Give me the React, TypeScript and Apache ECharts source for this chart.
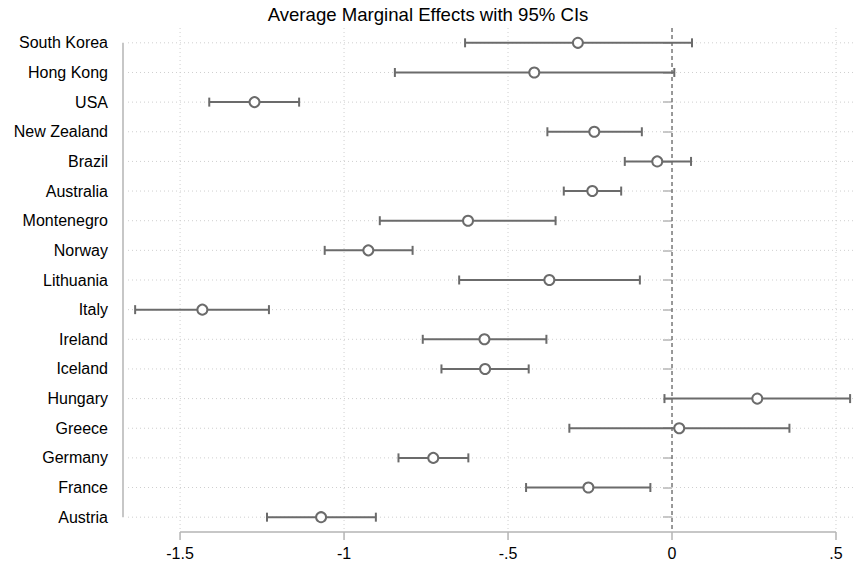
import React, { useEffect, useRef } from "react";
import * as echarts from "echarts";

// Countries listed from top to bottom
const countries = [
  "South Korea", "Hong Kong", "USA", "New Zealand", "Brazil", "Australia",
  "Montenegro", "Norway", "Lithuania", "Italy", "Ireland", "Iceland",
  "Hungary", "Greece", "Germany", "France", "Austria",
];

// Average marginal effects and their 95% confidence bounds
const estimates = [
  -0.287, -0.420, -1.273, -0.237, -0.045, -0.243, -0.622, -0.926, -0.374,
  -1.432, -0.572, -0.570, 0.260, 0.022, -0.728, -0.255, -1.070,
];
const lowerCI = [
  -0.631, -0.845, -1.411, -0.380, -0.144, -0.330, -0.891, -1.059, -0.649,
  -1.637, -0.760, -0.703, -0.023, -0.313, -0.834, -0.445, -1.235,
];
const upperCI = [
  0.061, 0.007, -1.137, -0.092, 0.058, -0.155, -0.355, -0.791, -0.098,
  -1.229, -0.383, -0.437, 0.543, 0.358, -0.621, -0.066, -0.903,
];

const xTicks = [-1.5, -1, -0.5, 0, 0.5];
const xMin = -1.674;
const xMax = 0.561;

const FONT = "'Liberation Sans', Arial, Helvetica, sans-serif";
const BAR = "#6b6b6b";
const AXIS = "#b4b4b4";
const GRIDC = "#cfcfcf";

const fmtTick = (v: number) => {
  const s = String(Math.round(v * 10) / 10);
  return s.replace(/^(-?)0\./, "$1.");
};

export default function App() {
  const ref = useRef<HTMLDivElement>(null);

  useEffect(() => {
    document.body.style.margin = "0";
    if (!ref.current) return;
    const chart = echarts.init(ref.current, undefined, { renderer: "svg" });

    const barData = countries.map((_, i) => [lowerCI[i], upperCI[i], i]);
    const pointData = countries.map((_, i) => [estimates[i], i]);

    chart.setOption({
      animation: false,
      backgroundColor: "#ffffff",
      title: {
        text: "Average Marginal Effects with 95% CIs",
        left: "center",
        top: 0,
        textStyle: { fontFamily: FONT, fontSize: 18.6, fontWeight: "normal", color: "#000" },
      },
      grid: { left: 123, right: 0, top: 28, bottom: 31, containLabel: false },
      xAxis: {
        type: "value",
        min: xMin,
        max: xMax,
        splitNumber: 5,
        axisLine: { show: false },
        axisTick: { show: false },
        splitLine: { show: false },
        axisLabel: {
          showMinLabel: false,
          showMaxLabel: false,
          margin: 13,
          fontFamily: FONT,
          fontSize: 16,
          color: "#000",
          formatter: (v: number) => fmtTick(v),
        },
      },
      yAxis: {
        type: "category",
        data: countries,
        inverse: true,
        axisLine: { show: false },
        axisTick: { show: true, alignWithLabel: true, length: 9, lineStyle: { color: AXIS, width: 1.5 } },
        splitLine: { show: false },
        axisLabel: { margin: 15, fontFamily: FONT, fontSize: 16, color: "#000" },
      },
      series: [
        {
          // Grid lines, reference line at zero and the axis lines
          type: "custom",
          z: 1,
          silent: true,
          data: [[0, 0]],
          encode: { x: 0, y: 1 },
          renderItem: (params: any, api: any) => {
            const cs = params.coordSys;
            const children: any[] = [];
            const bottom = cs.y + cs.height;
            countries.forEach((_, i) => {
              const y = api.coord([xMin, i])[1];
              children.push({
                type: "line",
                shape: { x1: cs.x + 5, y1: y, x2: cs.x + cs.width, y2: y },
                style: { stroke: GRIDC, lineWidth: 1, lineDash: [1, 3] },
              });
            });
            xTicks.forEach((t) => {
              const x = api.coord([t, 0])[0];
              if (t !== 0) {
                children.push({
                  type: "line",
                  shape: { x1: x, y1: cs.y, x2: x, y2: bottom },
                  style: { stroke: GRIDC, lineWidth: 1, lineDash: [1, 3] },
                });
              }
              children.push({
                type: "line",
                shape: { x1: x, y1: bottom, x2: x, y2: bottom + 8 },
                style: { stroke: AXIS, lineWidth: 1.5 },
              });
            });
            const x0 = api.coord([0, 0])[0];
            children.push({
              type: "line",
              shape: { x1: x0, y1: cs.y, x2: x0, y2: bottom },
              style: { stroke: "#777", lineWidth: 1.5, lineDash: [4, 3] },
            });
            const xa = api.coord([xTicks[0], 0])[0];
            const xb = api.coord([xTicks[xTicks.length - 1], 0])[0];
            children.push({
              type: "line",
              shape: { x1: xa, y1: bottom, x2: xb, y2: bottom },
              style: { stroke: AXIS, lineWidth: 1.5 },
            });
            const ya = api.coord([xMin, 0])[1];
            const yb = api.coord([xMin, countries.length - 1])[1];
            children.push({
              type: "line",
              shape: { x1: cs.x, y1: ya, x2: cs.x, y2: yb },
              style: { stroke: AXIS, lineWidth: 1.5 },
            });
            return { type: "group", children };
          },
        },
        {
          // Confidence interval bars with end caps
          type: "custom",
          z: 3,
          data: barData,
          encode: { x: [0, 1], y: 2 },
          renderItem: (_params: any, api: any) => {
            const lo = api.coord([api.value(0), api.value(2)]);
            const hi = api.coord([api.value(1), api.value(2)]);
            const cap = 4.5;
            const style = { stroke: BAR, lineWidth: 2 };
            return {
              type: "group",
              children: [
                { type: "line", shape: { x1: lo[0], y1: lo[1], x2: hi[0], y2: hi[1] }, style },
                { type: "line", shape: { x1: lo[0], y1: lo[1] - cap, x2: lo[0], y2: lo[1] + cap }, style },
                { type: "line", shape: { x1: hi[0], y1: hi[1] - cap, x2: hi[0], y2: hi[1] + cap }, style },
              ],
            };
          },
        },
        {
          // Point estimates
          type: "scatter",
          z: 4,
          data: pointData,
          symbol: "circle",
          symbolSize: 10,
          itemStyle: { color: "#ffffff", borderColor: BAR, borderWidth: 2, opacity: 1 },
        },
      ],
    });

    return () => chart.dispose();
  }, []);

  return <div ref={ref} style={{ width: 856, height: 563 }} />;
}
